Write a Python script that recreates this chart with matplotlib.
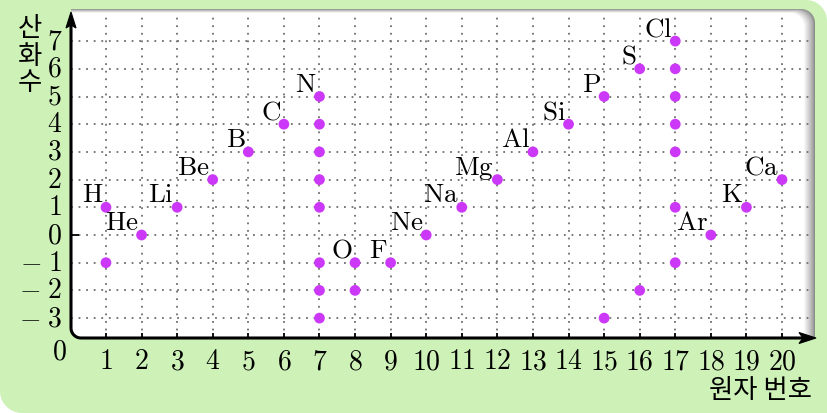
import numpy as np
import matplotlib
matplotlib.use("Agg")
import matplotlib.pyplot as plt
from matplotlib.patches import Polygon
from matplotlib.transforms import IdentityTransform

plt.rcParams['mathtext.fontset'] = 'cm'

# ---------------- data ----------------
elements = ["H", "He", "Li", "Be", "B", "C", "N", "O", "F", "Ne",
            "Na", "Mg", "Al", "Si", "P", "S", "Cl", "Ar", "K", "Ca"]
atomic_numbers = list(range(1, 21))
oxidation_states = [
    [1, -1], [0], [1], [2], [3], [4],
    [5, 4, 3, 2, 1, -1, -2, -3],
    [-1, -2], [-1], [0], [1], [2], [3], [4],
    [5, -3], [6, -2], [7, 6, 5, 4, 3, 1, -1],
    [0], [1], [2],
]
x_ticks = list(range(1, 21))
y_ticks = list(range(-3, 8))
y_label = "산\n화\n수"
x_label = "원자 번호"

# ---------------- layout (pixels) ----------------
W, H = 827, 413
DPI = 100
PX_X0, PX_PER_X = 70.4, 35.58     # pixel x of data x=0, pixels per unit
PX_Y0, PX_PER_Y = 235.0, 27.7     # pixel y (from top) of data y=0, px per unit

GREEN = '#cdf1b7'
DOT = '#cc38f8'

fig = plt.figure(figsize=(W / DPI, H / DPI), dpi=DPI)
fig.patch.set_facecolor('white')
ax = fig.add_axes([0, 0, 1, 1])
ax.set_xlim(-PX_X0 / PX_PER_X, (W - PX_X0) / PX_PER_X)
ax.set_ylim((PX_Y0 - H) / PX_PER_Y, PX_Y0 / PX_PER_Y)
ax.axis('off')

ident = IdentityTransform()


def P(x, y):
    """image pixel (y from top) -> display coords"""
    return (x, H - y)


def rounded_shape(x0, y0, x1, y1, r_tl=0, r_tr=0, r_br=0, r_bl=0, n=20):
    pts = []
    def arc(cx, cy, r, a0, a1):
        for t in np.linspace(a0, a1, n):
            pts.append(P(cx + r * np.cos(t), cy + r * np.sin(t)))
    if r_tl: arc(x0 + r_tl, y0 + r_tl, r_tl, np.pi, 1.5 * np.pi)
    else: pts.append(P(x0, y0))
    if r_tr: arc(x1 - r_tr, y0 + r_tr, r_tr, 1.5 * np.pi, 2 * np.pi)
    else: pts.append(P(x1, y0))
    if r_br: arc(x1 - r_br, y1 - r_br, r_br, 0, 0.5 * np.pi)
    else: pts.append(P(x1, y1))
    if r_bl: arc(x0 + r_bl, y1 - r_bl, r_bl, 0.5 * np.pi, np.pi)
    else: pts.append(P(x0, y1))
    return np.array(pts)


# outer green background
ax.add_patch(Polygon(rounded_shape(0, 0, W, H, r_tr=21, r_bl=22),
                     closed=True, transform=ident, facecolor=GREEN,
                     edgecolor='none', zorder=0))

# panel with shadow gradient
n_layers = 12
for i in range(n_layers):
    t = i / (n_layers - 1)
    g = 0.55 + 0.45 * t ** 0.8
    ax.add_patch(Polygon(rounded_shape(71, 9 + i * 0.35, 815 - i, 338,
                                       r_tr=14, r_bl=10),
                         closed=True, transform=ident,
                         facecolor=(g, g, g), edgecolor='none', zorder=1))
ax.add_patch(Polygon(rounded_shape(71, 13, 803, 338, r_tr=12, r_bl=10),
                     closed=True, transform=ident, facecolor='white',
                     edgecolor='none', zorder=1.5))

# data-space extents
y_bot = (PX_Y0 - 338) / PX_PER_Y
y_top = (PX_Y0 - 13) / PX_PER_Y
x_right_grid = (811 - PX_X0) / PX_PER_X

# grid
ax.vlines(x_ticks, y_bot, y_top, colors='#6e6e6e', linestyles=(0, (1, 3.2)),
          linewidth=1.3, zorder=2)
ax.hlines(y_ticks, 0.02, x_right_grid, colors='#6e6e6e',
          linestyles=(0, (1, 3.2)), linewidth=1.3, zorder=2)

# tick marks
ax.vlines(x_ticks, y_bot, y_bot + 5 / PX_PER_Y, colors='black', linewidth=1.3, zorder=3)
ax.hlines([0], 0.02, 0.02 + 8 / PX_PER_X, colors='black', linewidth=1.3, zorder=3)

# axes lines (with rounded origin corner)
r = 10
arc_t = np.linspace(np.pi, 0.5 * np.pi, 20)
ax_pts = [P(71, 22)] + [P(71 + r + r * np.cos(t), 338 - r + r * np.sin(t)) for t in arc_t] + [P(805, 338)]
ax_pts = np.array(ax_pts)
ax.plot(ax_pts[:, 0], ax_pts[:, 1], color='black', linewidth=2.2,
        transform=ident, zorder=4, solid_capstyle='butt')
# arrowheads
ax.add_patch(Polygon([P(71, 12), P(66, 28), P(71, 25), P(76, 28)], closed=True,
                     transform=ident, facecolor='black', edgecolor='black',
                     linewidth=0.8, zorder=5))
ax.add_patch(Polygon([P(816, 338), P(799, 332.5), P(803, 338), P(799, 343.5)],
                     closed=True, transform=ident, facecolor='black',
                     edgecolor='black', linewidth=0.8, zorder=5))

# points and labels
for name, z, states in zip(elements, atomic_numbers, oxidation_states):
    ax.scatter([z] * len(states), states, s=60, color=DOT, edgecolors='none',
               zorder=6)
    ax.annotate(r'$\mathrm{%s}$' % name, (z, max(states)),
                xytext=(-3, 5), textcoords='offset pixels',
                ha='right', va='baseline', fontsize=19.5, zorder=7)

# tick labels
for xv in x_ticks:
    ax.text(xv, (PX_Y0 - 361) / PX_PER_Y, r'$%d$' % xv, ha='center',
            va='center', fontsize=20)
for yv in y_ticks:
    lab = (r'$-\;%d$' % abs(yv)) if yv < 0 else (r'$%d$' % yv)
    ax.text((62 - PX_X0) / PX_PER_X, yv, lab,
            ha='right', va='center', fontsize=20)
ax.text((59 - PX_X0) / PX_PER_X, (PX_Y0 - 352) / PX_PER_Y, r'$0$',
        ha='center', va='center', fontsize=20)

# axis titles
ax.text(*P(30, 56), y_label, transform=ident, ha='center', va='center',
        fontsize=19, family=['Noto Sans CJK KR', 'DejaVu Sans'],
        linespacing=1.0)
ax.text(*P(760, 391), x_label, transform=ident, ha='center', va='center',
        fontsize=19, family=['Noto Sans CJK KR', 'DejaVu Sans'])

fig.savefig('out.png', dpi=DPI, facecolor=fig.get_facecolor())
